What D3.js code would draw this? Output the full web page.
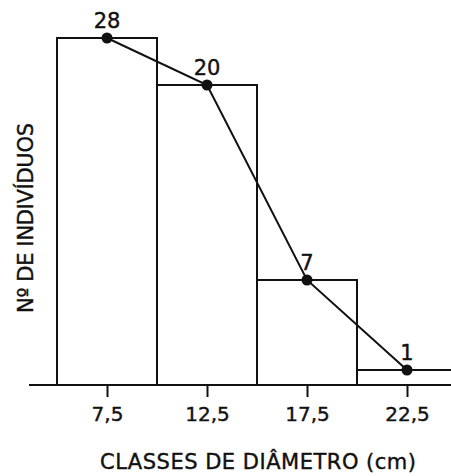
<!DOCTYPE html>
<html>
<head>
<meta charset="utf-8">
<script src="https://cdn.jsdelivr.net/npm/d3@7"></script>
<style>
  body { margin: 0; background: #fff; }
  text { font-family: "DejaVu Sans", sans-serif; fill: #111; stroke: #111; stroke-width: 0.4px; }
</style>
</head>
<body>
<svg id="chart" width="451" height="476"></svg>
<script>
// data
const classStarts = [5, 10, 15, 20];
const classWidth = 5;
const midpoints = [7.5, 12.5, 17.5, 22.5];
const counts = [28, 20, 7, 1];
const tickLabels = ["7,5", "12,5", "17,5", "22,5"];

const width = 451, height = 476;
const baseY = 385;

const svg = d3.select('#chart');

// x scale in cm
const x = d3.scaleLinear()
    .domain([5, 25])
    .range([57, 457]);

// the printed figure squeezes the tallest bar, so the scale bends at 20
const y = d3.scaleLinear()
    .domain([0, 20, 28])
    .range([baseY, 85, 38]);

// bars
svg.selectAll('rect.bar')
    .data(counts)
    .enter()
    .append('rect')
    .attr('class', 'bar')
    .attr('x', (d, i) => x(classStarts[i]))
    .attr('y', d => y(d))
    .attr('width', (d, i) => x(classStarts[i] + classWidth) - x(classStarts[i]))
    .attr('height', d => baseY - y(d))
    .attr('fill', 'white')
    .attr('stroke', '#111')
    .attr('stroke-width', 2);

// baseline
svg.append('line')
    .attr('x1', x(3.6))
    .attr('x2', width)
    .attr('y1', baseY)
    .attr('y2', baseY)
    .attr('stroke', '#111')
    .attr('stroke-width', 2.2);

// x axis ticks
const axis = svg.append('g')
    .attr('transform', 'translate(0,' + baseY + ')')
    .call(d3.axisBottom(x)
        .tickValues(midpoints)
        .tickFormat((d, i) => tickLabels[i])
        .tickSize(12)
        .tickPadding(10));
axis.select('.domain').remove();
axis.selectAll('line').attr('stroke', '#111').attr('stroke-width', 2);
axis.selectAll('text')
    .style('font-family', '"DejaVu Sans", sans-serif')
    .style('font-size', '20px')
    .attr('fill', '#111');

// frequency polygon
const line = d3.line()
    .x((d, i) => x(midpoints[i]))
    .y(d => y(d));
svg.append('path')
    .datum(counts)
    .attr('d', line)
    .attr('fill', 'none')
    .attr('stroke', '#111')
    .attr('stroke-width', 2);

svg.selectAll('circle.pt')
    .data(counts)
    .enter()
    .append('circle')
    .attr('class', 'pt')
    .attr('cx', (d, i) => x(midpoints[i]))
    .attr('cy', d => y(d))
    .attr('r', 5.5)
    .attr('fill', '#111');

// value labels
svg.selectAll('text.val')
    .data(counts)
    .enter()
    .append('text')
    .attr('class', 'val')
    .attr('x', (d, i) => x(midpoints[i]))
    .attr('y', d => y(d) - 10)
    .attr('text-anchor', 'middle')
    .style('font-size', '21px')
    .text(d => d);

// axis titles
svg.append('text')
    .attr('x', 258)
    .attr('y', 469)
    .attr('text-anchor', 'middle')
    .style('font-size', '21px')
    .attr('textLength', 316)
    .text('CLASSES DE DIÂMETRO (cm)');

svg.append('text')
    .attr('transform', 'translate(33,218) rotate(-90)')
    .attr('text-anchor', 'middle')
    .style('font-size', '21px')
    .attr('textLength', 190)
    .text('Nº DE INDIVÍDUOS');
</script>
</body>
</html>
